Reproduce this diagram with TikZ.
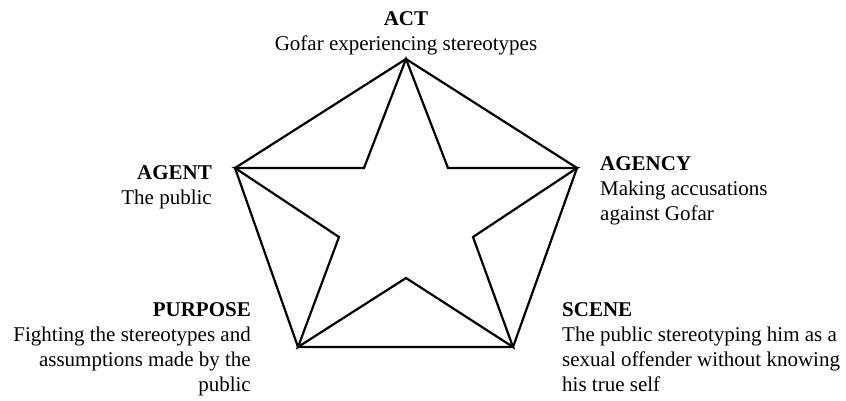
\documentclass[tikz,border=0pt]{standalone}
\usepackage{fontspec}
\setmainfont{Liberation Serif}
\begin{document}
\begin{tikzpicture}[x=1pt,y=-1pt,
  edge/.style={line width=2.2pt,line join=miter},
  lbl/.style={inner sep=0pt,font=\fontsize{21}{25}\selectfont}]
\useasboundingbox (0,0) rectangle (846,400);
% outer vertices
\coordinate (T)  at (406,59);
\coordinate (L)  at (235,168);
\coordinate (R)  at (577,168);
\coordinate (BL) at (298,347);
\coordinate (BR) at (513,347);
% inner star vertices
\coordinate (iUL) at (364,168);
\coordinate (iUR) at (448,168);
\coordinate (iL)  at (339,237);
\coordinate (iR)  at (473,237);
\coordinate (iB)  at (406,278);
% pentagon
\draw[edge] (T) -- (R) -- (BR) -- (BL) -- (L) -- cycle;
% star
\draw[edge] (T) -- (iUR) -- (R) -- (iR) -- (BR) -- (iB) -- (BL) -- (iL) -- (L) -- (iUL) -- cycle;
% labels
\node[lbl,anchor=north,align=center] (act) at (406,11)
  {\textbf{ACT}\\Gofar experiencing stereotypes};
\node[lbl,anchor=north east,align=right] (agent) at (212,165)
  {\textbf{AGENT}\\The public};
\node[lbl,anchor=north west,align=left] (agency) at (600,156)
  {\textbf{AGENCY}\\Making accusations\\against Gofar};
\node[lbl,anchor=north east,align=right] (purpose) at (251,302)
  {\textbf{PURPOSE}\\Fighting the stereotypes and\\assumptions made by the\\public};
\node[lbl,anchor=north west,align=left] (scene) at (562,302)
  {\textbf{SCENE}\\The public stereotyping him as a\\sexual offender without knowing\\his true self};
\end{tikzpicture}
\end{document}
